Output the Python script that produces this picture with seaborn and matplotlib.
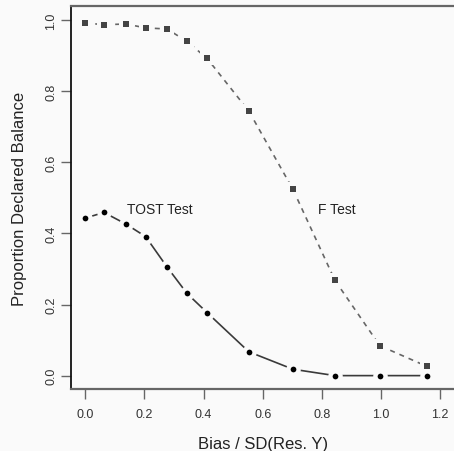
import matplotlib
matplotlib.use("Agg")
import matplotlib.pyplot as plt
import seaborn as sns
import pandas as pd

# Bias in units of the residual SD of Y
bias = [0.0, 0.063, 0.138, 0.204, 0.276, 0.344, 0.412, 0.553, 0.702, 0.844, 0.996, 1.155]
# Proportion of simulations declaring balance
f_test = [0.992, 0.987, 0.989, 0.978, 0.975, 0.940, 0.892, 0.744, 0.524, 0.268, 0.084, 0.026]
tost_test = [0.443, 0.459, 0.426, 0.391, 0.306, 0.231, 0.177, 0.067, 0.018, 0.0, 0.0, 0.0]

x_ticks = [0.0, 0.2, 0.4, 0.6, 0.8, 1.0, 1.2]
y_ticks = [0.0, 0.2, 0.4, 0.6, 0.8, 1.0]
tick_labels_x = ["0.0", "0.2", "0.4", "0.6", "0.8", "1.0", "1.2"]
tick_labels_y = ["0.0", "0.2", "0.4", "0.6", "0.8", "1.0"]

df = pd.DataFrame({"bias": bias, "F Test": f_test, "TOST Test": tost_test})

sns.set_style("white")
plt.rcParams["font.family"] = ["Liberation Sans", "DejaVu Sans"]

BG = "#fafafa"
fig = plt.figure(figsize=(4.54, 4.52), dpi=100, facecolor=BG)
ax = fig.add_axes([0.1564, 0.1361, 0.8784, 0.8495])
ax.set_facecolor(BG)

# F test: dashed grey line with squares
sns.lineplot(data=df, x="bias", y="F Test", ax=ax, color="#666666", lw=1.2, zorder=1)
ax.lines[-1].set_dashes((3, 3))
# TOST test: solid line with filled circles
sns.lineplot(data=df, x="bias", y="TOST Test", ax=ax, color="#3a3a3a", lw=1.2, zorder=1)

# background halo under each point so the lines stop short of it
sns.scatterplot(data=df, x="bias", y="F Test", ax=ax, marker="s", s=95,
                color=BG, linewidth=0, zorder=2)
sns.scatterplot(data=df, x="bias", y="TOST Test", ax=ax, marker="o", s=110,
                color=BG, linewidth=0, zorder=2)
sns.scatterplot(data=df, x="bias", y="F Test", ax=ax, marker="s", s=19,
                color="#444444", linewidth=0, zorder=3)
sns.scatterplot(data=df, x="bias", y="TOST Test", ax=ax, marker="o", s=17,
                color="black", linewidth=0, zorder=3)

ax.text(0.252, 0.47, "TOST Test", ha="center", va="center", fontsize=10, color="#222222")
ax.text(0.851, 0.47, "F Test", ha="center", va="center", fontsize=10, color="#222222")

ax.set_xlim(-0.0483, 1.3)
ax.set_ylim(-0.039, 1.041)
ax.set_xticks(x_ticks)
ax.set_xticklabels(tick_labels_x)
ax.set_yticks(y_ticks)
ax.set_yticklabels(tick_labels_y, rotation=90, va="center")

ax.tick_params(axis="both", direction="out", length=7, width=1, color="#666666",
               labelsize=9, labelcolor="#333333")
ax.tick_params(axis="x", bottom=True, pad=6)
ax.tick_params(axis="y", left=True, pad=3)

for side in ["top", "right", "bottom"]:
    ax.spines[side].set_color("#666666")
    ax.spines[side].set_linewidth(1.6)
ax.spines["left"].set_color("#111111")
ax.spines["left"].set_linewidth(1.3)

ax.set_xlabel("Bias / SD(Res. Y)", fontsize=12, color="#222222")
ax.set_ylabel("Proportion Declared Balance", fontsize=12, color="#222222")
ax_w = 0.8784 * 454
ax_h = 0.8495 * 452
ax.xaxis.set_label_coords((263 - 71) / ax_w, -(437.5 - 390.5) / ax_h)
ax.yaxis.set_label_coords(-(71 - 27) / ax_w, 0.5)

fig.savefig("out.png", dpi=100, facecolor=BG)
